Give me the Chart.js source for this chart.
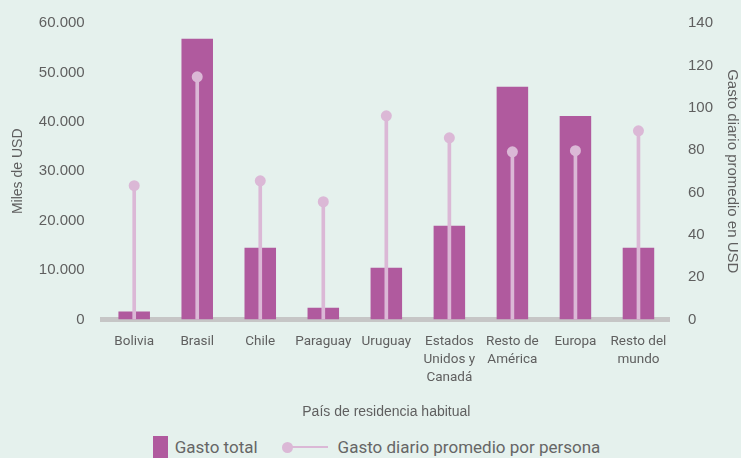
<!DOCTYPE html>
<html>
<head>
<meta charset="utf-8">
<script src="https://cdn.jsdelivr.net/npm/chart.js@4/dist/chart.umd.min.js"></script>
<style>
  html, body { margin: 0; padding: 0; background: #e5f1ed; }
  #wrap { position: relative; width: 741px; height: 458px; }
  #chartBox { position: absolute; left: 0; top: 0; width: 741px; height: 426px; }
  #legend {
    position: absolute; left: 6px; top: 434px; width: 741px; height: 26px;
    display: flex; justify-content: center; align-items: center;
    font-family: Roboto, sans-serif; font-size: 17px; color: #666;
  }
  .item { display: flex; align-items: center; margin: 0 12px; }
  .box { width: 15px; height: 23px; background: #b05a9e; margin-right: 7px; }
  .lol { position: relative; width: 46px; height: 11px; margin-right: 10px; }
  .lol .ln { position: absolute; left: 5px; right: 0; top: 4px; height: 2px; background: #dbb8d6; }
  .lol .dt { position: absolute; left: 0; top: 0; width: 11px; height: 11px; border-radius: 50%; background: #dbb8d6; }
</style>
</head>
<body>
<div id="wrap">
  <div id="chartBox"><canvas id="chart"></canvas></div>
  <div id="legend">
    <div class="item"><div class="box"></div>Gasto total</div>
    <div class="item"><div class="lol"><div class="ln"></div><div class="dt"></div></div>Gasto diario promedio por persona</div>
  </div>
</div>
<script>
document.addEventListener("DOMContentLoaded", function () {

  const categories = ["Bolivia", "Brasil", "Chile", "Paraguay", "Uruguay",
    ["Estados", "Unidos y", "Canadá"], ["Resto de", "América"], "Europa", ["Resto del", "mundo"]];
  const gastoTotal = [1600, 56800, 14500, 2400, 10500, 19000, 47100, 41200, 14500];
  const gastoDiario = [63.2, 114.6, 65.5, 55.6, 96.2, 85.8, 79.2, 79.7, 89.1];

  const textColor = "#5f5f5f";
  const narrow = "Roboto, sans-serif";
  const regular = "'Liberation Sans', Arial, sans-serif";

  new Chart(document.getElementById("chart"), {
    type: "bar",
    data: {
      labels: categories,
      datasets: [
        {
          label: "Gasto total",
          data: gastoTotal,
          backgroundColor: "#b05a9e",
          yAxisID: "y",
          grouped: false,
          barPercentage: 0.5,
          categoryPercentage: 1,
          order: 3
        },
        {
          label: "stick",
          data: gastoDiario,
          backgroundColor: "#dbb8d6",
          yAxisID: "y1",
          grouped: false,
          barThickness: 3,
          order: 2
        },
        {
          type: "line",
          label: "Gasto diario promedio por persona",
          data: gastoDiario,
          yAxisID: "y1",
          showLine: false,
          pointRadius: 5.5,
          pointBackgroundColor: "#dbb8d6",
          pointBorderWidth: 0,
          order: 1
        }
      ]
    },
    options: {
      responsive: true,
      maintainAspectRatio: false,
      animation: false,
      layout: { padding: { top: 23, left: 6, right: 0, bottom: 5 } },
      plugins: {
        legend: { display: false },
        tooltip: { enabled: false }
      },
      scales: {
        x: {
          grid: { display: false },
          border: { color: "#c6c6c6", width: 5 },
          ticks: { color: textColor, font: { family: narrow, size: 13.5, lineHeight: 1.35 }, padding: 5, maxRotation: 0, autoSkip: false },
          title: { display: true, text: "País de residencia habitual", color: textColor, font: { family: regular, size: 14 }, padding: { top: 12, bottom: 0 } }
        },
        y: {
          position: "left",
          min: 0, max: 60000,
          grid: { display: false },
          border: { display: false },
          ticks: {
            stepSize: 10000, color: textColor, font: { family: regular, size: 15 }, padding: 10,
            callback: v => v === 0 ? "0" : String(v).replace(/\B(?=(\d{3})+(?!\d))/g, ".")
          },
          title: { display: true, text: "Miles de USD", color: textColor, font: { family: regular, size: 14 }, padding: { bottom: 2 } }
        },
        y1: {
          position: "right",
          min: 0, max: 140,
          grid: { display: false },
          border: { display: false },
          ticks: { stepSize: 20, color: textColor, font: { family: regular, size: 15 }, padding: 10 },
          title: { display: true, text: "Gasto diario promedio en USD", color: textColor, font: { family: regular, size: 15 }, padding: { top: 0, bottom: 0 } }
        }
      }
    }
  });

});
</script>
</body>
</html>
